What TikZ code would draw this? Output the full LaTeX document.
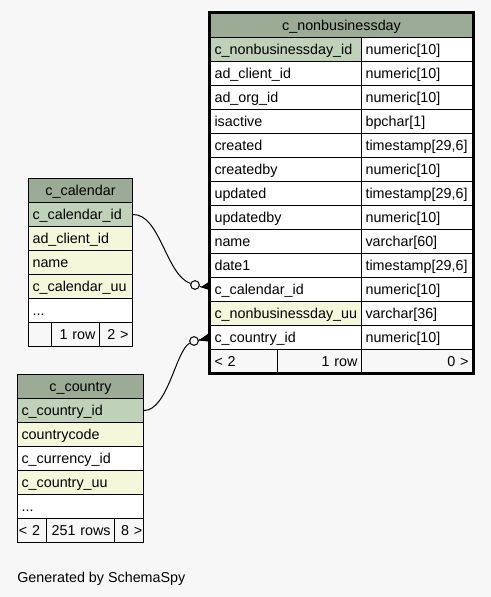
\documentclass[tikz,border=0pt]{standalone}
\usepackage{fontspec}
\setmainfont{Liberation Sans}
\definecolor{bgc}{HTML}{F7F7F7}
\definecolor{hdrc}{HTML}{9BAB96}
\definecolor{pkc}{HTML}{BFD1B8}
\definecolor{ylc}{HTML}{F4F7DA}
\tikzset{
  cell/.style={draw=black, line width=0.8pt, anchor=north west, inner xsep=3pt, inner ysep=0pt,
    minimum height=18pt, text height=8pt, text depth=1.25pt,
    font=\fontsize{10.75}{12}\selectfont, fill=white},
  lt/.style={cell, text width=#1, align=left},
  rt/.style={cell, text width=#1, align=right},
  hdr/.style={cell, fill=hdrc, text width=#1, align=center},
  pk/.style={fill=pkc},
  uq/.style={fill=ylc},
  ft/.style={fill=bgc},
  conn/.style={draw=black, line width=0.75pt},
  odot/.style={circle, draw=black, line width=0.75pt, fill=bgc, minimum size=6.5pt, inner sep=0pt},
}
\begin{document}
\begin{tikzpicture}[x=0.75pt,y=-0.75pt]
\fill[bgc] (0,0) rectangle (491,597);
\useasboundingbox (0,0) rectangle (491,597);

% ---- c_nonbusinessday ----
\node[hdr=190.5pt] (nbh) at (210,13) {c\_nonbusinessday};
\node[lt=107.25pt, pk] (nb1) at (210,37) {c\_nonbusinessday\_id};
\node[lt=77.25pt] (nb1t) at (361,37) {numeric[10]};
\node[lt=107.25pt] (nb2) at (210,61) {ad\_client\_id};
\node[lt=77.25pt] (nb2t) at (361,61) {numeric[10]};
\node[lt=107.25pt] (nb3) at (210,85) {ad\_org\_id};
\node[lt=77.25pt] (nb3t) at (361,85) {numeric[10]};
\node[lt=107.25pt] (nb4) at (210,109) {isactive};
\node[lt=77.25pt] (nb4t) at (361,109) {bpchar[1]};
\node[lt=107.25pt] (nb5) at (210,133) {created};
\node[lt=77.25pt] (nb5t) at (361,133) {timestamp[29,6]};
\node[lt=107.25pt] (nb6) at (210,157) {createdby};
\node[lt=77.25pt] (nb6t) at (361,157) {numeric[10]};
\node[lt=107.25pt] (nb7) at (210,181) {updated};
\node[lt=77.25pt] (nb7t) at (361,181) {timestamp[29,6]};
\node[lt=107.25pt] (nb8) at (210,205) {updatedby};
\node[lt=77.25pt] (nb8t) at (361,205) {numeric[10]};
\node[lt=107.25pt] (nb9) at (210,229) {name};
\node[lt=77.25pt] (nb9t) at (361,229) {varchar[60]};
\node[lt=107.25pt] (nb10) at (210,253) {date1};
\node[lt=77.25pt] (nb10t) at (361,253) {timestamp[29,6]};
\node[lt=107.25pt] (nbcal) at (210,277) {c\_calendar\_id};
\node[lt=77.25pt] (nbcalt) at (361,277) {numeric[10]};
\node[lt=107.25pt, uq] (nbuu) at (210,301) {c\_nonbusinessday\_uu};
\node[lt=77.25pt] (nbuut) at (361,301) {varchar[36]};
\node[lt=107.25pt] (nbcty) at (210,325) {c\_country\_id};
\node[lt=77.25pt] (nbctyt) at (361,325) {numeric[10]};
\node[lt=44.25pt, ft] (nbf1) at (210,349) {< 2};
\node[rt=57pt, ft] (nbf2) at (277,349) {1 row};
\node[rt=77.25pt, ft] (nbf3) at (361,349) {0 >};
\draw[line width=2.25pt] (209.5,12.5) rectangle (473,373.5);

% ---- c_calendar ----
\node[hdr=72pt] (calh) at (28,178) {c\_calendar};
\node[lt=72pt, pk] (calid) at (28,202) {c\_calendar\_id};
\node[lt=72pt, uq] (cal2) at (28,226) {ad\_client\_id};
\node[lt=72pt, uq] (cal3) at (28,250) {name};
\node[lt=72pt, uq] (cal4) at (28,274) {c\_calendar\_uu};
\node[lt=72pt] (cal5) at (28,298) {...};
\node[lt=11.25pt, ft] (calf1) at (28,322) {};
\node[rt=30pt, ft] (calf2) at (51,322) {1 row};
\node[rt=18.75pt, ft] (calf3) at (99,322) {2 >};

% ---- c_country ----
\node[hdr=88.5pt] (ctyh) at (17,374) {c\_country};
\node[lt=88.5pt, pk] (ctyid) at (17,398) {c\_country\_id};
\node[lt=88.5pt, uq] (cty2) at (17,422) {countrycode};
\node[lt=88.5pt] (cty3) at (17,446) {c\_currency\_id};
\node[lt=88.5pt, uq] (cty4) at (17,470) {c\_country\_uu};
\node[lt=88.5pt] (cty5) at (17,494) {...};
\node[lt=19.75pt, ft, inner xsep=1pt] (ctyf1) at (17,518) {\mbox{< 2}};
\node[rt=45pt, ft] (ctyf2) at (46,518) {251 rows};
\node[rt=19.75pt, ft, inner xsep=1pt] (ctyf3) at (114,518) {\mbox{8 >}};

% ---- connectors ----
\node[odot] (o1) at (195,285) {};
\draw[conn] (calid.east) .. controls (160,214) and (166,275) .. (o1);
\draw[conn] (o1) -- (nbcal.west);
\fill (201,287) -- (208.5,282) -- (208.5,289.5) -- cycle;

\node[odot] (o2) at (194,341) {};
\draw[conn] (ctyid.east) .. controls (168,410) and (176,350) .. (o2);
\draw[conn] (o2) -- (nbcty.west);
\fill (198.5,340.5) -- (208.5,333.5) -- (208.5,341.5) -- cycle;

\node[anchor=base west, font=\fontsize{10.75}{12}\selectfont, inner sep=0pt] (gen) at (17,582) {Generated by SchemaSpy};
\end{tikzpicture}
\end{document}
